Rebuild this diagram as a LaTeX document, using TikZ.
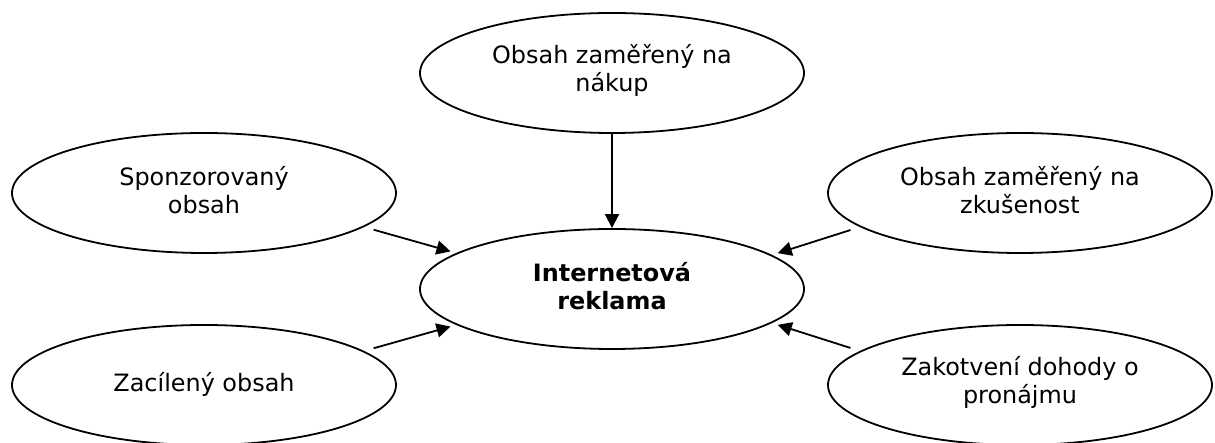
\documentclass[tikz,border=0pt]{standalone}
\usepackage{fontspec}
\setmainfont{DejaVu Sans}
\usetikzlibrary{shapes.geometric,arrows.meta}
\begin{document}
\begin{tikzpicture}[x=1pt,y=1pt,
  bubble/.style={ellipse,draw,line width=1.8pt,minimum width=384pt,minimum height=120pt,inner sep=0pt},
  txt/.style={align=center,inner sep=0pt,font=\fontsize{23.9}{28.5}\selectfont},
  link/.style={-{Triangle[length=14pt,width=14pt]},line width=1.8pt}]
\useasboundingbox (0,0) rectangle (1215,443);
\node[bubble] (t) at (612,370) {};
\node[bubble] (c) at (612,154) {};
\node[bubble] (lt) at (204,250) {};
\node[bubble] (lb) at (204,58) {};
\node[bubble] (rt) at (1020,250) {};
\node[bubble] (rb) at (1020,58) {};
\node[txt] (t-txt) at ([yshift=2.5pt]t.center) {Obsah zaměřený na\\nákup};
\node[txt,font=\fontsize{23.9}{28.5}\selectfont\bfseries] (c-txt) at ([yshift=3pt]c.center) {Internetová\\reklama};
\node[txt] (lt-txt) at ([yshift=3pt]lt.center) {Sponzorovaný\\obsah};
\node[txt] (lb-txt) at ([yshift=1pt]lb.center) {Zacílený obsah};
\node[txt] (rt-txt) at ([yshift=3pt]rt.center) {Obsah zaměřený na\\zkušenost};
\node[txt] (rb-txt) at ([yshift=2.5pt]rb.center) {Zakotvení dohody o\\pronájmu};
\draw[link] (t.south) -- (c.north);
\draw[link,shorten <=10pt,shorten >=6pt] (lt.-12) -- (c.167.5);
\draw[link,shorten <=10pt,shorten >=6pt] (lb.12) -- (c.-167.5);
\draw[link,shorten <=10pt,shorten >=6pt] (rt.-168) -- (c.12.5);
\draw[link,shorten <=10pt,shorten >=6pt] (rb.168) -- (c.-12.5);
\end{tikzpicture}
\end{document}
